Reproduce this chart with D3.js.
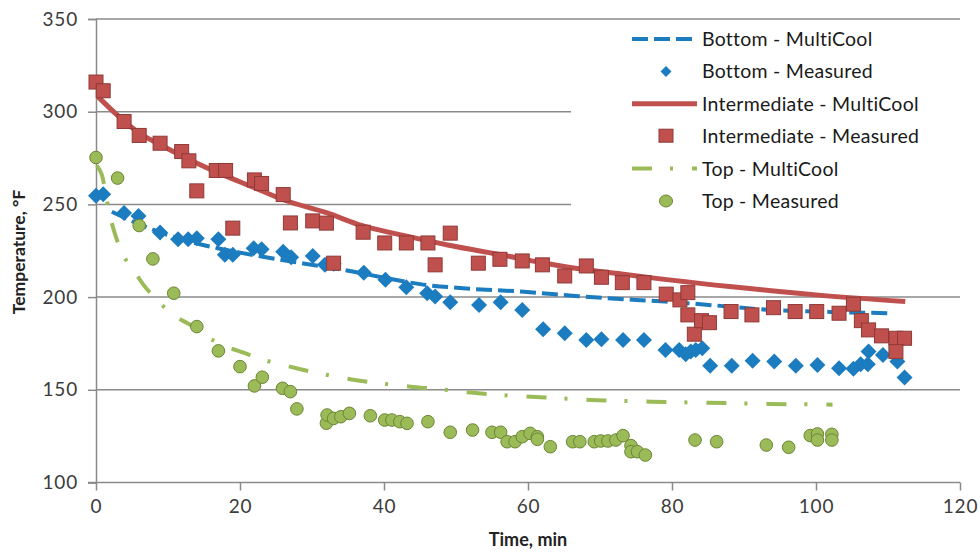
<!DOCTYPE html>
<html>
<head>
<meta charset="utf-8">
<script src="https://cdn.jsdelivr.net/npm/d3@7"></script>
<style>
  body { margin: 0; background: #fff; }
  svg text { font-family: Lato, "Open Sans", sans-serif; }
</style>
</head>
<body>
<svg id="chart"></svg>
<script>
// time (min), temperature (F)
const bottomModel = [[2.2,246],[5,241],[10,233.5],[15,228],[20,224],[25,220.5],[29,218],[34.4,214.7],[40,210.5],[45,207],[52,204.5],[59,203],[67,200.5],[75,198.5],[79,197.6],[86,195.5],[94,193],[102,192],[110.2,191.3]];

const bottomMeasured = [[0,254.6],[1,255.5],[3.9,245.3],[5.9,243.8],[8.9,234.8],[11.4,231.2],[12.8,231.2],[14,231.8],[17,231.2],[17.9,222.8],[19,222.8],[21.9,226.4],[23,225.8],[26,224.5],[27.1,221.5],[30.1,222.2],[31.8,217.4],[33,218],[37.2,213.2],[40.2,209.3],[43.1,205.3],[46,202.1],[47.1,200.3],[49.2,197.2],[53.2,195.8],[56.2,197.2],[59.2,193.1],[62.1,182.7],[65.1,180.5],[68.1,176.9],[70.2,177.3],[73.2,176.9],[76.1,176.9],[79.1,171.5],[81,171.5],[81.9,169.2],[82.6,170.6],[83.3,171.5],[84.2,172.4],[85.3,163],[88.3,163],[91.2,165.7],[94.2,165.2],[97.2,163],[100.2,163.4],[103.2,161.6],[105.2,161.3],[106.2,163.8],[107.2,163.8],[107.3,170.6],[109.3,168.8],[111.3,165.2],[112.3,156.6]];

const interModel = [[0.3,308],[3,298],[6,288.5],[9,282],[12,276],[17,267],[22,259],[26,252.5],[32,245.5],[37,238.5],[43,233],[49,228],[56,223],[62,218.5],[68,214.7],[73,212.5],[77,210.5],[88,205.7],[100,201.2],[112.4,197.6]];

const interMeasured = [[0,316],[1,311.3],[3.9,294.7],[6,287.2],[8.9,283],[11.9,278.5],[12.9,273.5],[14,257.3],[16.7,268.3],[18,268.3],[19,237.2],[22,263.2],[23,261.3],[26,255.3],[27,240],[30.1,241.1],[32,239.9],[33,218.3],[37.1,235],[40.1,229.2],[43.1,229.2],[46.1,229.2],[47.1,217.4],[49.2,234.5],[53.1,218.3],[56.1,220.4],[59.2,219.5],[62,217.4],[65.1,211.4],[68.1,216.8],[70.2,210.7],[73.1,207.8],[76.1,207.8],[79.2,201.6],[81.1,198.5],[82.2,202.4],[82.2,190.4],[83.1,180],[84.1,187.3],[85.2,186.2],[88.2,192.2],[91.1,190.4],[94.1,194.3],[97.1,192.2],[100.1,192.2],[103.2,191.3],[105.2,196.2],[106.3,187.3],[107.3,182.3],[109.1,179.1],[111.1,177.8],[112.3,177.8],[111.1,170.6]];

const topModel = [[0.1,271],[0.8,266],[1.9,244.5],[2.6,234.5],[3.6,224],[5.2,214.7],[6.6,206.6],[8.6,198],[10.7,190.4],[13.1,185],[15.4,178.7],[18.1,173.3],[20.5,170],[23,166.5],[26,163.4],[28.4,161.1],[31.2,158.7],[35.3,155.7],[39.5,153.5],[43.7,151.7],[47.8,150.3],[52,148.5],[56.2,147.2],[60.4,146.3],[64.5,145.4],[68.7,144.5],[72.9,144],[77,143.6],[85.2,143],[93.5,142.4],[102.3,142]];

const topMeasured = [[0,275.3],[3,264.2],[6,238.6],[7.9,220.6],[10.8,202.1],[14,184.1],[17,171],[20,162.5],[22,152.1],[23.1,156.8],[25.9,150.8],[27,149],[27.9,139.7],[32,132],[32.1,136.4],[33,134.6],[34,135.5],[35.2,137.3],[38.1,136],[40.1,133.7],[41.1,133.7],[42.2,132.8],[43.2,131.9],[46.1,132.8],[49.2,127.1],[52.3,128.3],[55,127.1],[56.2,127.1],[57.1,122],[58.2,122],[59.2,124.7],[60.3,126.5],[61.3,124.7],[61.3,123.3],[63.1,119.3],[66.2,122],[67.2,122],[69.2,122],[70.1,122.4],[71.1,122.4],[72.2,122.9],[73.2,125.3],[74.3,119.9],[74.3,116.6],[75.2,116.6],[76.3,114.8],[83.2,122.9],[86.2,122],[93.1,120.2],[96.2,119],[99.2,125.3],[100.2,126.2],[100.2,122.9],[102.2,126],[102.2,122.9]];

const xTicks = [0, 20, 40, 60, 80, 100, 120];
const yTicks = [100, 150, 200, 250, 300, 350];

const legendLabels = ["Bottom - MultiCool", "Bottom - Measured", "Intermediate - MultiCool",
                      "Intermediate - Measured", "Top - MultiCool", "Top - Measured"];

class TempChart {
    constructor(_config) {
        this.config = {
            parentElement: _config.parentElement,
            containerWidth: _config.containerWidth || 980,
            containerHeight: _config.containerHeight || 553,
            margin: { top: 19, bottom: 70.5, right: 20, left: 96 }
        };
        this.initVis();
    }

    initVis() {
        let vis = this;
        const m = vis.config.margin;

        vis.width = vis.config.containerWidth - m.left - m.right;
        vis.height = vis.config.containerHeight - m.top - m.bottom;

        vis.blue = "#1c7cc0";
        vis.red = "#c0504d";
        vis.green = "#9bbb59";

        vis.svg = d3.select(vis.config.parentElement)
            .attr('width', vis.config.containerWidth)
            .attr('height', vis.config.containerHeight);

        vis.chart = vis.svg.append('g')
            .attr('transform', `translate(${m.left},${m.top})`);

        vis.xScale = d3.scaleLinear().domain([0, 120]).range([0, vis.width]);
        vis.yScale = d3.scaleLinear().domain([100, 350]).range([vis.height, 0]);

        // gridlines
        vis.chart.append('g')
            .selectAll('line')
            .data(yTicks.filter(d => d > 100))
            .join('line')
            .attr('x1', 0)
            .attr('x2', vis.width)
            .attr('y1', d => vis.yScale(d))
            .attr('y2', d => vis.yScale(d))
            .attr('stroke', '#8a8a8a')
            .attr('stroke-width', 1.5);

        vis.xAxis = d3.axisBottom(vis.xScale).tickValues(xTicks).tickSizeOuter(0).tickSize(8).tickPadding(9);
        vis.yAxis = d3.axisLeft(vis.yScale).tickValues(yTicks).tickSizeOuter(0).tickSize(8).tickPadding(10);

        let gx = vis.chart.append('g')
            .attr('transform', `translate(0,${vis.height})`)
            .call(vis.xAxis);
        gx.select('.domain').attr('d', `M-8,0H${vis.width}`);

        let gy = vis.chart.append('g').call(vis.yAxis);

        [gx, gy].forEach(g => {
            g.selectAll('.domain, .tick line').attr('stroke', '#8a8a8a').attr('stroke-width', 1.5);
            g.selectAll('.tick text')
                .attr('fill', '#3c3c3c')
                .style('font-size', '19px')
                .style('letter-spacing', '0.8px');
        });

        // axis titles
        vis.svg.append('text')
            .attr('x', 528)
            .attr('y', 546)
            .attr('text-anchor', 'middle')
            .style('font-size', '18px')
            .style('font-weight', 'bold')
            .attr('fill', '#222')
            .text('Time, min');

        vis.svg.append('text')
            .attr('transform', 'translate(25,252) rotate(-90)')
            .attr('text-anchor', 'middle')
            .style('font-size', '17.5px')
            .style('font-weight', 'bold')
            .attr('fill', '#222')
            .text('Temperature, °F');

        // legend background hides the gridlines behind it
        vis.svg.append('rect')
            .attr('x', 571)
            .attr('y', 24)
            .attr('width', 392)
            .attr('height', 194)
            .attr('fill', '#fff');

        vis.line = d3.line()
            .x(d => vis.xScale(d[0]))
            .y(d => vis.yScale(d[1]))
            .curve(d3.curveMonotoneX);

        vis.chart.append('path')
            .datum(topModel)
            .attr('d', vis.line)
            .attr('fill', 'none')
            .attr('stroke', vis.green)
            .attr('stroke-width', 4)
            .attr('stroke-dasharray', '20,18,3,19');

        vis.chart.append('path')
            .datum(interModel)
            .attr('d', vis.line)
            .attr('fill', 'none')
            .attr('stroke', vis.red)
            .attr('stroke-width', 5);

        vis.chart.append('path')
            .datum(bottomModel)
            .attr('d', vis.line)
            .attr('fill', 'none')
            .attr('stroke', vis.blue)
            .attr('stroke-width', 4)
            .attr('stroke-dasharray', '16,6');

        vis.diamond = d3.symbol().type(d3.symbolSquare).size(128);

        vis.chart.append('g')
            .selectAll('path')
            .data(bottomMeasured)
            .join('path')
            .attr('d', vis.diamond)
            .attr('transform', d => `translate(${vis.xScale(d[0])},${vis.yScale(d[1])}) rotate(45)`)
            .attr('fill', vis.blue);

        vis.chart.append('g')
            .selectAll('rect')
            .data(interMeasured)
            .join('rect')
            .attr('x', d => vis.xScale(d[0]) - 7)
            .attr('y', d => vis.yScale(d[1]) - 7)
            .attr('width', 14)
            .attr('height', 14)
            .attr('fill', vis.red)
            .attr('stroke', '#8e3a37')
            .attr('stroke-width', 1);

        vis.chart.append('g')
            .selectAll('circle')
            .data(topMeasured)
            .join('circle')
            .attr('cx', d => vis.xScale(d[0]))
            .attr('cy', d => vis.yScale(d[1]))
            .attr('r', 6.3)
            .attr('fill', vis.green)
            .attr('stroke', '#6b8535')
            .attr('stroke-width', 1);

        vis.renderLegend();
    }

    renderLegend() {
        let vis = this;
        const rowY = i => 39 + i * 32.4;

        let lg = vis.svg.append('g');

        lg.append('line')
            .attr('x1', 632).attr('x2', 697).attr('y1', rowY(0)).attr('y2', rowY(0))
            .attr('stroke', vis.blue).attr('stroke-width', 4).attr('stroke-dasharray', '16,6');

        lg.append('path')
            .attr('d', d3.symbol().type(d3.symbolSquare).size(60))
            .attr('transform', `translate(666,${rowY(1)}) rotate(45)`)
            .attr('fill', vis.blue);

        lg.append('line')
            .attr('x1', 632).attr('x2', 697).attr('y1', rowY(2)).attr('y2', rowY(2))
            .attr('stroke', vis.red).attr('stroke-width', 5);

        lg.append('rect')
            .attr('x', 659).attr('y', rowY(3) - 7).attr('width', 14).attr('height', 13)
            .attr('fill', vis.red).attr('stroke', '#8e3a37');

        lg.append('line')
            .attr('x1', 632).attr('x2', 697).attr('y1', rowY(4)).attr('y2', rowY(4))
            .attr('stroke', vis.green).attr('stroke-width', 4).attr('stroke-dasharray', '20,18,3,19');

        lg.append('ellipse')
            .attr('cx', 666).attr('cy', rowY(5)).attr('rx', 6.5).attr('ry', 6)
            .attr('fill', vis.green).attr('stroke', '#6b8535');

        lg.selectAll('text')
            .data(legendLabels)
            .join('text')
            .attr('x', 702)
            .attr('y', (d, i) => rowY(i))
            .attr('dy', '0.36em')
            .attr('fill', '#1a1a1a')
            .style('font-size', '19.5px')
            .style('letter-spacing', '0.25px')
            .text(d => d);
    }
}

new TempChart({ parentElement: '#chart' });
</script>
</body>
</html>
